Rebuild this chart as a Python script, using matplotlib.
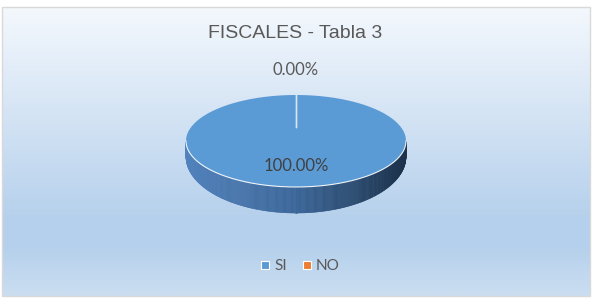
import numpy as np
import matplotlib
matplotlib.use("Agg")
import matplotlib.pyplot as plt
from matplotlib.collections import PolyCollection
from matplotlib.colors import LinearSegmentedColormap
from matplotlib.lines import Line2D
from matplotlib.patches import Polygon, Rectangle

# data
categories = ["SI", "NO"]
values = [100.0, 0.0]
slice_colors = ["#5b9bd5", "#ed7d31"]
title = "FISCALES - Tabla 3"

W, H = 599, 302
fig = plt.figure(figsize=(W / 100, H / 100), dpi=100)
ax = fig.add_axes([0, 0, 1, 1])
ax.set_xlim(0, W)
ax.set_ylim(H, 0)
ax.axis("off")

# chart area background (vertical gradient like Excel)
bg = LinearSegmentedColormap.from_list(
    "bg", [(0.0, "#f4f8fd"), (0.74, "#b5d0ec"), (0.83, "#b5d0ec"), (1.0, "#cbdef1")])
grad = np.linspace(0, 1, 256).reshape(-1, 1)
ax.imshow(grad, cmap=bg, aspect="auto", extent=(2, 590, 296, 7), zorder=0)
ax.add_patch(Rectangle((2, 7), 588, 289, fill=False, ec="#d9d9d9", lw=1, zorder=1))

# pie geometry (pixels)
cx, cy, rx, ry, depth = 296, 141, 110, 46, 26
hub = (cx, cy - 0.3 * ry)

def pt(t):
    return cx + rx * np.cos(t), cy - ry * np.sin(t)

total = sum(values)
fracs = [v / total for v in values]
starts = 90 - 360 * np.concatenate([[0], np.cumsum(fracs)[:-1]])
ends = starts - 360 * np.array(fracs)

# side wall (front half only) with horizontal shading
side_cmap = LinearSegmentedColormap.from_list(
    "side", [(0.0, "#5282bc"), (0.5, "#3b6698"), (1.0, "#1c314a")])
quads, cols = [], []
for s, e, f in zip(starts, ends, fracs):
    if f <= 0:
        continue
    ts = np.radians(np.linspace(s, e, 600))
    for a, b in zip(ts[:-1], ts[1:]):
        if np.sin(a) > 0 or np.sin(b) > 0:
            continue
        xa, ya = pt(a)
        xb, yb = pt(b)
        da = depth * (0.6 + 0.4 * -np.sin(a))
        db = depth * (0.6 + 0.4 * -np.sin(b))
        quads.append([(xa, ya), (xb, yb), (xb, yb + db), (xa, ya + da)])
        cols.append(side_cmap((0.5 * (xa + xb) - (cx - rx)) / (2 * rx)))
ax.add_collection(PolyCollection(quads, facecolors=cols, edgecolors=cols, lw=0.4, zorder=2))

# top face
for s, e, f, c in zip(starts, ends, fracs, slice_colors):
    if f <= 0:
        continue
    ts = np.radians(np.linspace(s, e, 400))
    xs, ys = pt(ts)
    verts = list(zip(xs, ys))
    if f < 1:
        verts.append(hub)
    ax.add_patch(Polygon(verts, closed=True, fc=c, ec="none", zorder=3))

# white highlight on the front rim
tf = np.radians(np.linspace(180, 360, 200))
fx, fy = pt(tf)
ax.plot(fx, fy, color="white", lw=0.8, alpha=0.9, zorder=4)

# slice boundaries
for s in starts:
    ex, ey = pt(np.radians(s))
    ax.plot([hub[0], ex], [hub[1], ey], color="#d6e6f5", lw=1.0, zorder=4)

# data labels
for s, e, f in zip(starts, ends, fracs):
    mid = np.radians(0.5 * (s + e))
    k = 0.55 if f > 0.05 else 1.55
    lx, ly = cx + k * rx * np.cos(mid), cy - k * ry * np.sin(mid)
    color = "#404040" if f > 0.05 else "#595959"
    ax.text(lx, ly, f"{100 * f:.2f}%", ha="center", va="center",
            fontsize=12, color=color, family=["Lato", "DejaVu Sans"], zorder=5)

# title
ax.text(W / 2 - 4, 33.5, title, ha="center", va="center", fontsize=14,
        color="#595959", family=["Liberation Sans", "DejaVu Sans"], zorder=5)

# legend
handles = [Line2D([], [], ls="none", marker="s", ms=6, mfc=c, mec="white", mew=0.8)
           for c in slice_colors]
leg = ax.legend(handles, categories, loc="center", bbox_to_anchor=(300 / W, 1 - 266 / H),
                ncol=len(categories), frameon=False, handlelength=0.6, handletextpad=0.3,
                columnspacing=1.0, borderpad=0,
                prop={"family": ["Lato", "DejaVu Sans"], "size": 11})
for t in leg.get_texts():
    t.set_color("#595959")

fig.savefig("out.png", dpi=100)
